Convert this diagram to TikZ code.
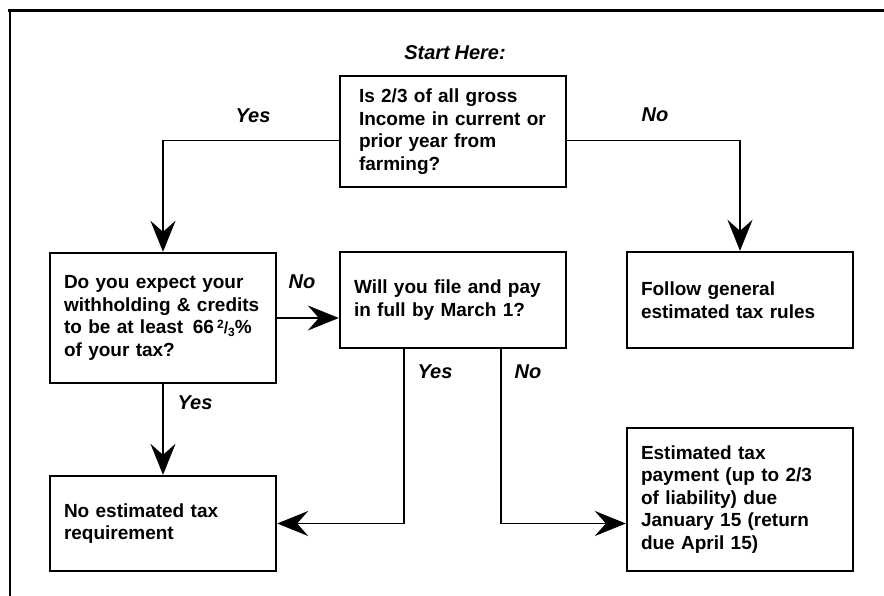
\documentclass[tikz,border=0pt]{standalone}
\usepackage{fontspec}
\setmainfont[WordSpace=0.85]{Liberation Sans}
\usetikzlibrary{positioning, arrows.meta}

\begin{document}
\begin{tikzpicture}[
        x=1pt, y=-1pt,
        >={Stealth[length=31pt, width=25pt, inset=11pt]},
        line width=1.9pt,
        on grid,
        box/.style={rectangle, draw, line width=2.3pt, minimum width=226pt,
            text width=198pt, inner xsep=14pt, align=left,
            font=\fontsize{19}{22.5}\selectfont\bfseries},
        lbl/.style={inner sep=0pt, font=\fontsize{20}{24}\selectfont\bfseries\itshape}
    ]
    \useasboundingbox (0,0) rectangle (884,596);

    % Frame
    \draw[line width=3pt] (8,11) -- (884,11);
    \draw (10,11) -- (10,596);

    % Boxes
    \node[box, minimum height=111pt, text width=188pt, inner xsep=19pt] (farm) at (453,131.5)
        {Is 2/3 of all gross\\ Income in current or\\ prior year from\\ farming?};
    \node[box, minimum height=96pt, below=168.5pt of farm] (file)
        {Will you file and pay\\ in full by March 1?};
    \node[box, minimum height=130pt, left=290pt of file, yshift=-18pt] (withh)
        {Do you expect your\\ withholding \& credits\\ to be at least\enspace 66\,\raisebox{5.5pt}{\fontsize{12}{12}\selectfont 2}{\fontsize{16}{16}\selectfont/}\raisebox{-2.5pt}{\fontsize{12}{12}\selectfont 3}\%\\ of your tax?};
    \node[box, minimum height=96pt, right=287pt of file] (general)
        {Follow general\\ estimated tax rules};
    \node[box, minimum height=95pt, below=205.5pt of withh] (noest)
        {No estimated tax\\ requirement};
    \node[box, minimum height=143pt, below=199.5pt of general] (estpay)
        {Estimated tax\\ payment (up to 2/3\\ of liability) due\\ January 15 (return\\ due April 15)};

    % Labels
    \node[lbl] (start) at (455,53) {Start Here:};
    \node[lbl] (farmyes) at (253,116) {Yes};
    \node[lbl] (farmno) at (655,115) {No};
    \node[lbl] (withhno) at (302,282) {No};
    \node[lbl] (withhyes) at (195,403) {Yes};
    \node[lbl] (fileyes) at (435,372) {Yes};
    \node[lbl] (fileno) at (528,372) {No};

    % Connectors
    \draw[->] ([yshift=-9pt]farm.west) -| (withh.north);
    \draw[->] ([yshift=-9pt]farm.east) -| (general.north);
    \draw[->] (withh.east) -- (withh.east -| file.west);
    \draw[->] (withh.south) -- (noest.north);
    \draw[->] ([xshift=-49pt]file.south) |- (noest.east);
    \draw[->] ([xshift=48pt]file.south) |- (noest.east -| estpay.west);

\end{tikzpicture}
\end{document}
